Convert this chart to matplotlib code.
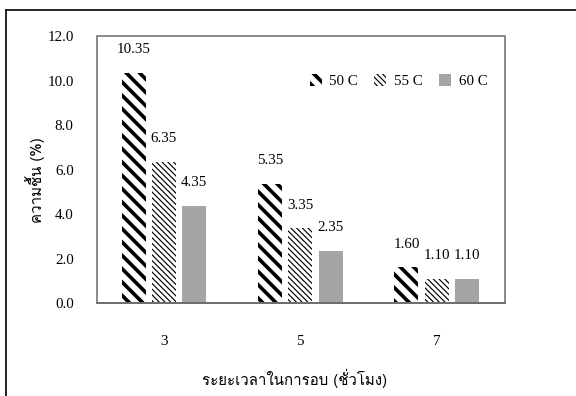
import matplotlib
matplotlib.use('Agg')
import matplotlib.pyplot as plt
from matplotlib import font_manager
from matplotlib.ft2font import FT2Font
from matplotlib.lines import Line2D
import numpy as np

# Данные
hours = ['3', '5', '7']
series = ['50 C', '55 C', '60 C']
moist_50 = [10.35, 5.35, 1.60]
moist_55 = [6.35, 3.35, 1.10]
moist_60 = [4.35, 2.35, 1.10]

# Поиск шрифта с тайскими глифами (предпочтительно обычного начертания)
thai_fonts = []
for f in font_manager.fontManager.ttflist:
    try:
        if 0x0E04 in FT2Font(f.fname).get_charmap():
            thai_fonts.append(f)
    except Exception:
        pass
thai_fonts.sort(key=lambda f: (f.style != 'normal', abs(int(f.weight) - 400)
                               if str(f.weight).isdigit() else 500))
thai_font = thai_fonts[0] if thai_fonts else None
thai_weight = thai_font.weight if thai_font else 'normal'
thai_family = [thai_font.name, 'DejaVu Sans'] if thai_font else ['DejaVu Sans']

plt.rcParams['font.family'] = ['Liberation Serif', 'DejaVu Serif']
plt.rcParams['font.size'] = 9

fig = plt.figure(figsize=(4.8, 3.3), dpi=120)
ax = fig.add_axes([0.1684, 0.2348, 0.7083, 0.6742])

x = np.arange(len(hours))
w = 0.176
off = 0.222
hatch_50 = '\\\\\\'
hatch_55 = '\\\\\\\\\\\\\\'

b1 = ax.bar(x - off, moist_50, w, color='white', edgecolor='black',
            linewidth=0, hatch=hatch_50, label=series[0])
b2 = ax.bar(x, moist_55, w, color='white', edgecolor='black',
            linewidth=0, hatch=hatch_55, label=series[1])
b3 = ax.bar(x + off, moist_60, w, color='#a5a5a5', edgecolor='#a5a5a5',
            linewidth=0, label=series[2])
for p in b1:
    p.set_hatch_linewidth(2.2)
for p in b2:
    p.set_hatch_linewidth(0.7)

# Подписи значений
for bars, vals in [(b1, moist_50), (b2, moist_55), (b3, moist_60)]:
    for bar, v in zip(bars, vals):
        ax.annotate(f'{v:.2f}', (bar.get_x() + bar.get_width() / 2, v),
                    xytext=(0, 14), textcoords='offset points',
                    ha='center', va='center', fontsize=9)

ax.set_xlim(-0.49, 2.5)
ax.set_ylim(0, 12)
ax.set_yticks(np.arange(0, 12.1, 2))
ax.set_yticklabels([f'{v:.1f}' for v in np.arange(0, 12.1, 2)])
ax.set_xticks(x)
ax.set_xticklabels(hours)
ax.tick_params(axis='both', length=0)
ax.tick_params(axis='y', pad=14)
ax.tick_params(axis='x', pad=19)

for s in ax.spines.values():
    s.set_color('#8c8c8c')
    s.set_linewidth(1.2)
ax.spines['bottom'].set_color('#6f6f6f')

# Подписи осей
fig.text(295 / 576, 1 - 378 / 396, 'ระยะเวลาในการอบ (ชั่วโมง)',
         family=thai_family, fontweight=thai_weight, fontsize=9,
         ha='center', va='center')
fig.text(35 / 576, 1 - 180 / 396, 'ความชื้น (%)', rotation=90,
         family=thai_family, fontweight=thai_weight, fontsize=9,
         ha='center', va='center')

leg = ax.legend(loc='center right', bbox_to_anchor=(0.975, 0.831),
                ncol=3, frameon=False, borderpad=0,
                handlelength=0.8, handleheight=0.8,
                handletextpad=0.5, columnspacing=1.1, fontsize=9)
hs = leg.legend_handles
hs[0].set_hatch(hatch_50)
hs[0].set_hatch_linewidth(2.2)
hs[1].set_hatch(hatch_55)
hs[1].set_hatch_linewidth(0.7)

# Рамка рисунка
fig.add_artist(Line2D([0.0104, 1.0], [0.976, 0.976], color='black',
                      linewidth=1.0, transform=fig.transFigure))
fig.add_artist(Line2D([0.0104, 0.0104], [0.0, 0.976], color='black',
                      linewidth=1.0, transform=fig.transFigure))

fig.savefig('out.png', dpi=120)
